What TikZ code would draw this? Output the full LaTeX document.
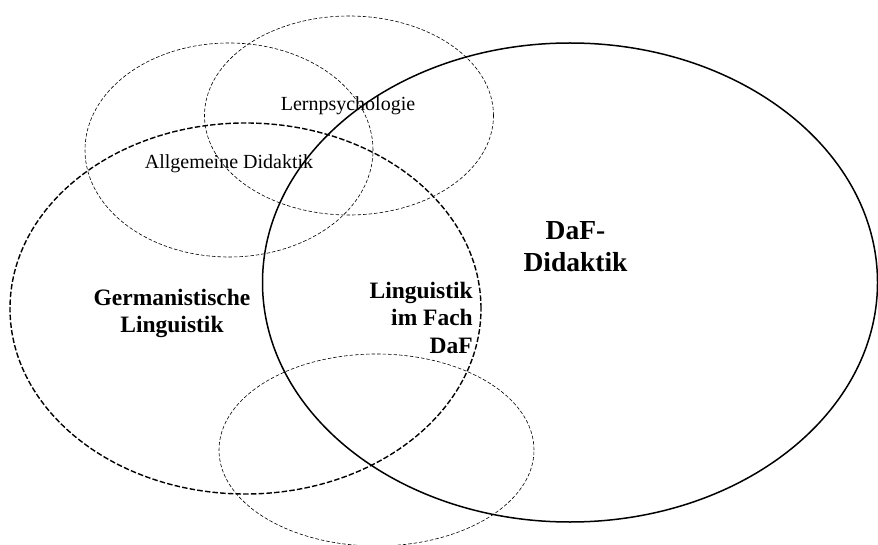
\documentclass[tikz,border=0pt]{standalone}
\usepackage{fontspec}
\setmainfont{Liberation Serif}
\begin{document}
\begin{tikzpicture}[x=1pt, y=-1pt,
		duenn/.style={line width=0.6pt, dash pattern=on 3.5pt off 2pt},
		dick/.style={line width=1.4pt, dash pattern=on 5.5pt off 2.2pt},
		voll/.style={line width=1.5pt},
		klein/.style={font=\fontsize{20}{24}\selectfont, inner sep=0pt},
		fett/.style={font=\fontsize{23.5}{27.5}\selectfont\bfseries, inner sep=0pt},
		gross/.style={font=\fontsize{27.5}{32}\selectfont\bfseries, inner sep=0pt}]
	\useasboundingbox (0,0) rectangle (878,545);
	
	% ==================== Mittelpunkte ====================
	\coordinate (allg) at (229,150);
	\coordinate (lern) at (349,115.5);
	\coordinate (germ) at (245.5,308.5);
	\coordinate (daf)  at (570,282.5);
	\coordinate (unten) at (376.5,450);
	
	% ==================== Kreise ====================
	% Nachbardisziplinen: duenn gestrichelt
	\draw[duenn] (allg) ellipse [x radius=144pt, y radius=107pt];
	\draw[duenn] (lern) ellipse [x radius=144.5pt, y radius=99.5pt];
	\draw[duenn] (unten) ellipse [x radius=157.5pt, y radius=96pt];
	% Germanistik: dick gestrichelt
	\draw[dick] (germ) ellipse [x radius=235.5pt, y radius=185.5pt];
	% DaF-Didaktik: durchgezogen
	\draw[voll] (daf) ellipse [x radius=307.5pt, y radius=239.5pt];
	
	% ==================== Beschriftung ====================
	\node[klein, anchor=base] (lerntext) at (348,110.5) {Lernpsychologie};
	\node[klein, anchor=base] (allgtext) at (229,169) {Allgemeine Didaktik};
	\node[fett, align=center] (germtext) at (172,313.5) {Germanistische\\Linguistik};
	\node[fett, align=right, anchor=east] (fachtext) at (473,317.5) {Linguistik\\im Fach\\DaF};
	\node[gross, align=center] (daftext) at (575.5,246.5) {DaF-\\Didaktik};
\end{tikzpicture}
\end{document}
